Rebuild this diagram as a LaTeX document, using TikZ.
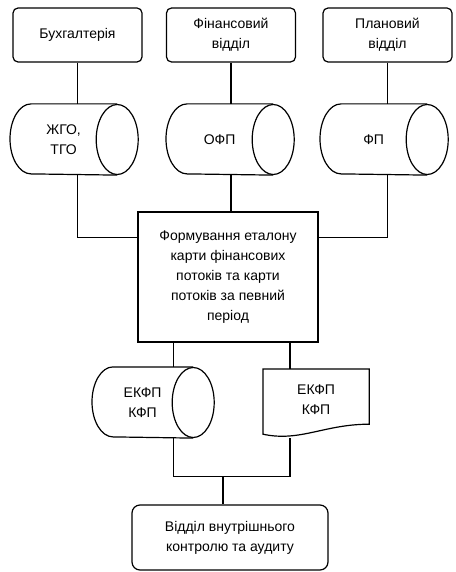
\documentclass[tikz,border=0pt]{standalone}
\usepackage{fontspec}
\setmainfont{Liberation Sans}
\usepackage{tikz}
\usetikzlibrary{positioning}

\tikzset{
  dept/.style={draw, rounded corners=5pt, minimum width=129pt, minimum height=54pt, align=center},
  store/.style={minimum width=#1, minimum height=70pt, inner sep=0pt, align=center},
  proc/.style={draw, minimum width=180pt, minimum height=130pt, align=center},
}

\begin{document}
\begin{tikzpicture}[x=1pt, y=-1pt, line width=1.2pt, font=\fontsize{14}{20}\selectfont]
    \useasboundingbox (0,0) rectangle (455,572);

    % sources
    \node[dept] (buh) at (77.5,35) {Бухгалтерія};
    \node[dept] (fin) at (231,35) {Фінансовий\\відділ};
    \node[dept] (plan) at (387.5,35) {Плановий\\відділ};

    \node[store=106pt, anchor=west] (zhgo) at (10,139.5) {ЖГО,\\ТГО};
    \node[store=106pt, anchor=west] (ofp) at (166,139.5) {ОФП};
    \node[store=106pt, anchor=west] (fp) at (320,139.5) {ФП};

    \node[proc] (form) at (228,277) {Формування еталону\\карти фінансових\\потоків та карти\\потоків за певний\\період};

    % results
    \node[store=100pt, anchor=west] (ekfp) at (92,402.5) {ЕКФП\\КФП};
    \node[minimum width=105pt, minimum height=60pt, inner sep=0pt, align=center, anchor=north west] (ekfpdoc) at (263,369) {ЕКФП\\КФП};

    \node[dept, rounded corners=8pt, minimum width=196pt, minimum height=65pt] (vvka) at (230,537.5) {Відділ внутрішнього\\контролю та аудиту};

    % cylinder outlines
    \foreach \c in {zhgo, ofp, fp, ekfp} {
      \draw (\c.north east) -- ([xshift=21pt]\c.north west)
        arc[start angle=90, end angle=270, x radius=21pt, y radius=35pt] -- (\c.south east);
      \draw (\c.east) ellipse [x radius=21pt, y radius=35pt];
    }
    % document outline
    \draw (ekfpdoc.north west) -- (ekfpdoc.north east) -- ([yshift=6pt]ekfpdoc.south east)
      .. controls +(-45,0) and +(37,8) .. ([yshift=-4pt]ekfpdoc.south west) -- cycle;

    \coordinate (jb) at ([xshift=-7pt,yshift=28pt]vvka.north);

    % connectors
    \draw (buh.south) -- (buh.south |- zhgo.north);
    \draw (fin.south) -- (fin.south |- ofp.north);
    \draw (plan.south) -- (plan.south |- fp.north);
    \draw (buh.south |- zhgo.south) |- ([yshift=-26pt]form.north west);
    \draw (fin.south |- ofp.south) -- (fin.south |- form.north);
    \draw (plan.south |- fp.south) |- ([yshift=-26pt]form.north east);
    \draw ([xshift=-20pt]ekfp.north east) -- ([xshift=-20pt]ekfp.north east |- form.south);
    \draw ([xshift=27pt]ekfpdoc.north west) -- ([xshift=27pt]ekfpdoc.north west |- form.south);
    \draw ([xshift=-20pt]ekfp.south east) |- (jb) -| ([xshift=27pt,yshift=-8pt]ekfpdoc.south west);
    \draw (jb) -- (jb |- vvka.north);
\end{tikzpicture}
\end{document}
